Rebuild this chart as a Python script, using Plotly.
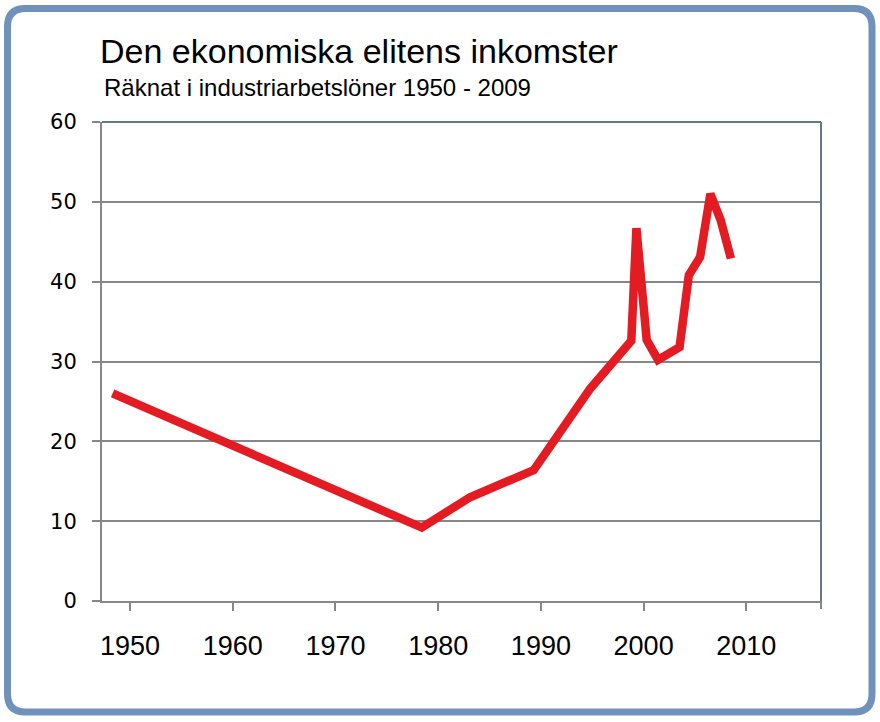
import plotly.graph_objects as go

# Den ekonomiska elitens inkomster, räknat i industriarbetslöner
years = [1948.3, 1978.4, 1983.1, 1989.3, 1994.8, 1998.8, 1999.3, 2000.3,
         2001.4, 2003.5, 2004.4, 2005.5, 2006.5, 2007.5, 2008.5]
income = [26.0, 9.2, 13.0, 16.4, 26.6, 32.6, 46.7, 32.7,
          30.2, 31.8, 40.8, 43.1, 51.0, 47.7, 42.9]

x_ticks = [1950, 1960, 1970, 1980, 1990, 2000, 2010]
y_ticks = [0, 10, 20, 30, 40, 50, 60]

title = "Den ekonomiska elitens inkomster"
subtitle = "Räknat i industriarbetslöner 1950 - 2009"

x_range = [1947.27, 2017.27]
y_range = [0, 60]

# plot area in pixels
L, R, T, B = 102, 821, 122, 601
W, H = R - L, B - T


def px(x):
    return (x - L) / W


def py(y):
    return (B - y) / H


fig = go.Figure()
fig.add_trace(go.Scatter(x=years, y=income, mode="lines",
                         line=dict(color="#e31b23", width=8.5),
                         hoverinfo="x+y", showlegend=False))

# rounded frame round the whole picture
x0, x1, y0, y1, r = 7.5, 872, 8.5, 712, 18
path = (f"M {px(x0 + r)},{py(y0)} L {px(x1 - r)},{py(y0)} "
        f"Q {px(x1)},{py(y0)} {px(x1)},{py(y0 + r)} "
        f"L {px(x1)},{py(y1 - r)} Q {px(x1)},{py(y1)} {px(x1 - r)},{py(y1)} "
        f"L {px(x0 + r)},{py(y1)} Q {px(x0)},{py(y1)} {px(x0)},{py(y1 - r)} "
        f"L {px(x0)},{py(y0 + r)} Q {px(x0)},{py(y0)} {px(x0 + r)},{py(y0)} Z")
fig.add_shape(type="path", path=path, xref="paper", yref="paper",
              line=dict(color="#7091bb", width=7), layer="below")

# top and right edge of the plot box
fig.add_shape(type="line", xref="paper", yref="paper", x0=0, x1=1, y0=1, y1=1,
              line=dict(color="#5f7a8c", width=2))
fig.add_shape(type="line", xref="paper", yref="paper", x0=1, x1=1, y0=0, y1=1,
              line=dict(color="#5f7a8c", width=2))
# tick at the right end of the x axis
fig.add_shape(type="line", xref="paper", yref="paper", x0=1, x1=1, y0=0, y1=py(B + 8),
              line=dict(color="#878787", width=2))

fig.add_annotation(text=title, xref="paper", yref="paper", x=px(98), y=py(51),
                   xanchor="left", yanchor="middle", showarrow=False,
                   font=dict(family="Liberation Sans, Arial", size=34, color="black"))
fig.add_annotation(text=subtitle, xref="paper", yref="paper", x=px(102), y=py(88),
                   xanchor="left", yanchor="middle", showarrow=False,
                   font=dict(family="Liberation Sans, Arial", size=24, color="black"))

fig.update_xaxes(range=x_range, tickvals=x_ticks, ticks="outside", ticklen=8,
                 tickwidth=2, tickcolor="#878787", showline=True, linewidth=2,
                 linecolor="#878787", showgrid=False, zeroline=False,
                 ticklabelstandoff=12,
                 tickfont=dict(family="Liberation Sans, Arial", size=27, color="black"))
fig.update_yaxes(range=y_range, tickvals=y_ticks, ticks="outside", ticklen=8,
                 tickwidth=2, tickcolor="#878787", showline=True, linewidth=2,
                 linecolor="#878787", showgrid=True, gridcolor="#878787",
                 gridwidth=2, zeroline=False, ticklabelstandoff=11,
                 tickfont=dict(family="DejaVu Sans", size=21, color="black"))

fig.update_layout(width=880, height=722, margin=dict(l=L, r=880 - R, t=T, b=722 - B),
                  plot_bgcolor="white", paper_bgcolor="white")

# page without the default body margin so the figure fills the window
fig.write_html("out.html", config={"displayModeBar": False},
               post_script="document.body.style.margin = '0';")
